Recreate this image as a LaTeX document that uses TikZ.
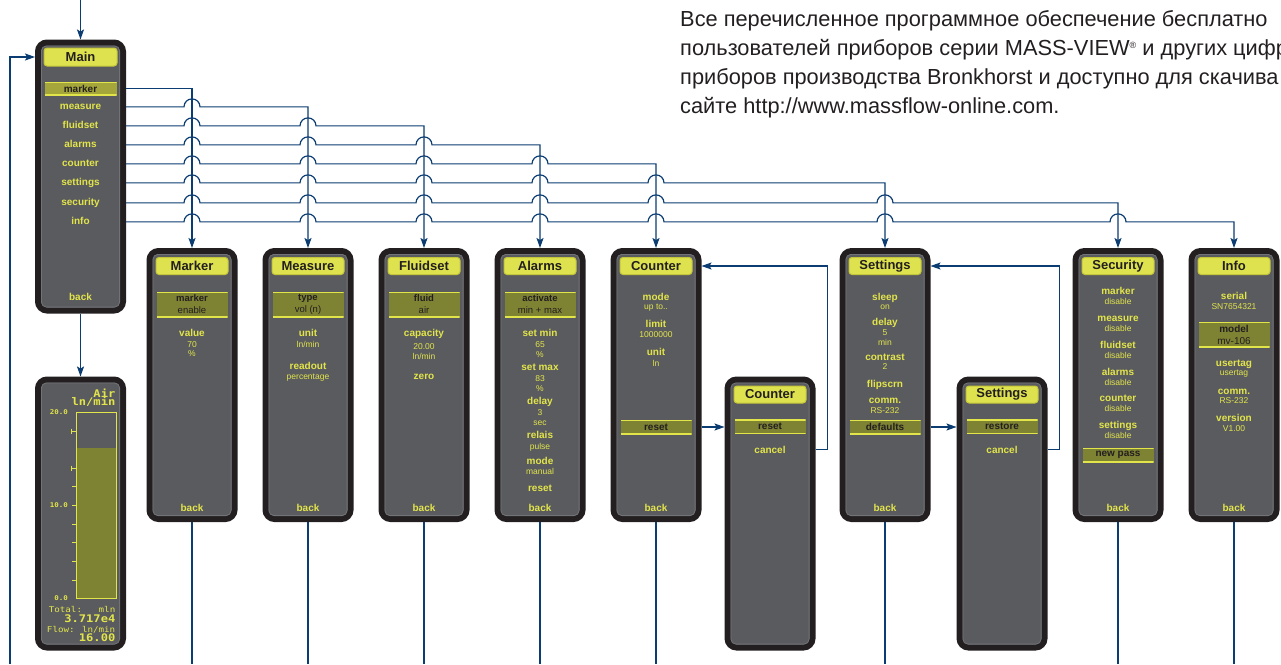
\documentclass[tikz,border=0pt]{standalone}
\usepackage{fontspec}
\setmainfont{Liberation Sans}
\newfontfamily\lcdfont[FakeStretch=1.15]{DejaVu Sans Mono}
\usetikzlibrary{positioning,arrows.meta}

\definecolor{framec}{HTML}{231F20}
\definecolor{screenc}{HTML}{5A5B5F}
\definecolor{rimc}{HTML}{727377}
\definecolor{lcdc}{HTML}{E2E54A}
\definecolor{titlec}{HTML}{DEE24E}
\definecolor{titleedge}{HTML}{C4C63A}
\definecolor{selc}{HTML}{7E8233}
\definecolor{selmainc}{HTML}{A4A53A}
\definecolor{linec}{HTML}{0B3C72}

\tikzset{
  panel/.style={rectangle, rounded corners=9pt, draw=framec, fill=screenc, line width=6pt,
    minimum width=85pt, minimum height=268pt},
  ttl/.style={rectangle, rounded corners=3pt, fill=titlec, draw=titleedge, line width=1pt,
    minimum width=72pt, minimum height=17pt, inner sep=0pt, text=framec,
    font=\fontsize{13}{13}\selectfont\bfseries},
  sel/.style={rectangle, fill=selc, minimum width=71pt, minimum height=14pt, inner sep=0pt,
    text=framec, font=\fontsize{10}{12}\selectfont\bfseries,
    path picture={\draw[lcdc, line width=2pt]
      (path picture bounding box.north west) -- (path picture bounding box.north east)
      (path picture bounding box.south west) -- (path picture bounding box.south east);}},
  sel2/.style={sel, minimum height=25pt, align=center, font=\fontsize{9.5}{12}\selectfont},
  lbl/.style={anchor=base, inner sep=0pt, text=lcdc, font=\fontsize{10}{12}\selectfont\bfseries},
  val/.style={anchor=base, inner sep=0pt, text=lcdc, font=\fontsize{8.5}{10}\selectfont},
  lcdtxt/.style={anchor=base east, inner sep=0pt, text=lcdc},
  note/.style={anchor=base west, inner sep=0pt, text=framec, font=\fontsize{21.8}{29}\selectfont},
  wire/.style={draw=linec, line width=1.2pt},
  link/.style={wire, -{Stealth[length=10pt, width=7pt, inset=2pt]}},
  hop/.style={to path={-- ([xshift=-8pt]\tikztotarget) arc[start angle=180, end angle=0, radius=8pt]}}
}

\begin{document}
\begin{tikzpicture}[x=1pt, y=-1pt, node distance=25pt]
\useasboundingbox (0,0) rectangle (1281,664);

% text in the corner
\node[note] (note1) at (680,26) {Все перечисленное программное обеспечение бесплатно};
\node[note] (note2) at (680,55) {пользователей приборов серии MASS-VIEW\raisebox{7pt}{\fontsize{9}{9}\selectfont ®} и других цифр};
\node[note] (note3) at (680,84) {приборов производства Bronkhorst и доступно для скачива};
\node[note] (note4) at (680,113) {сайте http://www.massflow-online.com.};

% main menu
\node[panel] (main) at (80.5,176.5) {};
\node[ttl, minimum width=73pt, minimum height=18pt] (mttl) at ([yshift=-17.5pt]main.north) {Main};
\node[sel, fill=selmainc, minimum width=72pt, minimum height=13pt] (mmarker) at ([yshift=-49pt]main.north) {marker};
\node[lbl] (mmeasure) at ([yshift=-70pt]main.north) {measure};
\node[lbl] (mfluidset) at ([yshift=-89pt]main.north) {fluidset};
\node[lbl] (malarms) at ([yshift=-108pt]main.north) {alarms};
\node[lbl] (mcounter) at ([yshift=-127pt]main.north) {counter};
\node[lbl] (msettings) at ([yshift=-146pt]main.north) {settings};
\node[lbl] (msecurity) at ([yshift=-166pt]main.north) {security};
\node[lbl] (minfo) at ([yshift=-185pt]main.north) {info};
\node[lbl] (mback) at ([yshift=-261pt]main.north) {back};

% readout screen
\node[panel] (display) [below=63pt of main] {};
\fill[selc] (76,448) rectangle (116,598);
\draw[lcdc, line width=1pt] (76,412) rectangle (116,598);
\foreach \ty in {486,505,524,542,561,580}
  \draw[lcdc, line width=0.9pt] (72,\ty) -- (76,\ty);
\foreach \ty in {431,468}
  \draw[lcdc, line width=0.9pt] (71,\ty-2.5) -- (71,\ty+2.5) (71,\ty) -- (76,\ty);
\node[lcdtxt, font=\lcdfont\fontsize{10.5}{10.5}\selectfont\bfseries] (dgas) at (115.5,397) {Air};
\node[lcdtxt, font=\lcdfont\fontsize{10.5}{10.5}\selectfont\bfseries] (dunit) at (115.5,405.5) {ln/min};
\node[lcdtxt, font=\lcdfont\fontsize{6.5}{6.5}\selectfont\bfseries] (dtop) at (68,414.5) {20.0};
\node[lcdtxt, font=\lcdfont\fontsize{6.5}{6.5}\selectfont\bfseries] (dmid) at (68,507.5) {10.0};
\node[lcdtxt, font=\lcdfont\fontsize{6.5}{6.5}\selectfont\bfseries] (dlow) at (68,600.5) {0.0};
\node[lcdtxt, font=\lcdfont\fontsize{8}{8}\selectfont] (dtotal) at (115.5,612) {Total:\ \ \ mln};
\node[lcdtxt, font=\lcdfont\fontsize{10.5}{10.5}\selectfont\bfseries] (dtotval) at (115.5,622.5) {3.717e4};
\node[lcdtxt, font=\lcdfont\fontsize{8}{8}\selectfont] (dflow) at (115.5,632) {Flow: ln/min};
\node[lcdtxt, font=\lcdfont\fontsize{10.5}{10.5}\selectfont\bfseries] (dflowval) at (115.5,641) {16.00};

% sub menus
\node[panel] (marker) at (192,385) {};
\node[panel] (measure) [right=of marker] {};
\node[panel] (fluidset) [right=of measure] {};
\node[panel] (alarms) [right=of fluidset] {};
\node[panel] (counter) [right=of alarms] {};
\node[panel] (settings) [right=138pt of counter] {};
\node[panel] (security) [right=142pt of settings] {};
\node[panel] (info) [right=of security] {};
\node[panel] (counter2) at (770,513.5) {};
\node[panel] (settings2) at (1002,513.5) {};

% thin rim inside every frame
\foreach \p in {main,display,marker,measure,fluidset,alarms,counter,settings,security,info,counter2,settings2}
  \draw[rimc, line width=0.8pt, rounded corners=5pt]
    ([shift={(6.4pt,-6.4pt)}]\p.north west) rectangle ([shift={(-6.4pt,6.4pt)}]\p.south east);

% marker
\node[ttl] (mkttl) at ([yshift=-18pt]marker.north) {Marker};
\node[sel2] (mksel) at ([yshift=-56.5pt]marker.north) {\textbf{marker}\\enable};
\foreach \dy/\txt [count=\k] in {88.5/value, 263.5/back}
  \node[lbl] (mk-l\k) at ([yshift=-\dy pt]marker.north) {\txt};
\foreach \dy/\txt [count=\k] in {99/70, 108/\%}
  \node[val] (mk-v\k) at ([yshift=-\dy pt]marker.north) {\txt};

% measure
\node[ttl] (msttl) at ([yshift=-18pt]measure.north) {Measure};
\node[sel2] (mssel) at ([yshift=-56.5pt]measure.north) {\textbf{type}\\vol (n)};
\foreach \dy/\txt [count=\k] in {88.5/unit, 121.5/readout, 263.5/back}
  \node[lbl] (ms-l\k) at ([yshift=-\dy pt]measure.north) {\txt};
\foreach \dy/\txt [count=\k] in {99/{ln/min}, 131/percentage}
  \node[val] (ms-v\k) at ([yshift=-\dy pt]measure.north) {\txt};

% fluidset
\node[ttl] (flttl) at ([yshift=-18pt]fluidset.north) {Fluidset};
\node[sel2] (flsel) at ([yshift=-56.5pt]fluidset.north) {\textbf{fluid}\\air};
\foreach \dy/\txt [count=\k] in {88.5/capacity, 131.5/zero, 263.5/back}
  \node[lbl] (fl-l\k) at ([yshift=-\dy pt]fluidset.north) {\txt};
\foreach \dy/\txt [count=\k] in {101/20.00, 111/{ln/min}}
  \node[val] (fl-v\k) at ([yshift=-\dy pt]fluidset.north) {\txt};

% alarms
\node[ttl] (alttl) at ([yshift=-18pt]alarms.north) {Alarms};
\node[sel2] (alsel) at ([yshift=-56.5pt]alarms.north) {\textbf{activate}\\min + max};
\foreach \dy/\txt [count=\k] in {88.5/set min, 122.5/set max, 156.5/delay, 190.5/relais, 216.5/mode, 243.5/reset, 263.5/back}
  \node[lbl] (al-l\k) at ([yshift=-\dy pt]alarms.north) {\txt};
\foreach \dy/\txt [count=\k] in {99/65, 109/\%, 133/83, 143/\%, 167/3, 177/sec, 201/pulse, 226/manual}
  \node[val] (al-v\k) at ([yshift=-\dy pt]alarms.north) {\txt};

% counter
\node[ttl] (cnttl) at ([yshift=-18pt]counter.north) {Counter};
\foreach \dy/\txt [count=\k] in {52.5/mode, 79.5/limit, 107.5/unit, 263.5/back}
  \node[lbl] (cn-l\k) at ([yshift=-\dy pt]counter.north) {\txt};
\foreach \dy/\txt [count=\k] in {61/up to.., 89/1000000, 118/ln}
  \node[val] (cn-v\k) at ([yshift=-\dy pt]counter.north) {\txt};
\node[sel] (cnsel) at ([yshift=-179pt]counter.north) {reset};

\node[ttl] (c2ttl) at ([yshift=-18pt]counter2.north) {Counter};
\node[sel] (c2sel) at ([yshift=-50pt]counter2.north) {reset};
\node[lbl] (c2cancel) at ([yshift=-76.5pt]counter2.north) {cancel};

% settings
\node[ttl] (stttl) at ([yshift=-18pt]settings.north) {Settings};
\foreach \dy/\txt [count=\k] in {52.5/sleep, 77.5/delay, 112.5/contrast, 139.5/flipscrn, 155.5/comm., 263.5/back}
  \node[lbl] (st-l\k) at ([yshift=-\dy pt]settings.north) {\txt};
\foreach \dy/\txt [count=\k] in {61/on, 87/5, 97/min, 121/2, 165/RS-232}
  \node[val] (st-v\k) at ([yshift=-\dy pt]settings.north) {\txt};
\node[sel] (stsel) at ([yshift=-179pt]settings.north) {defaults};

\node[ttl] (s2ttl) at ([yshift=-18pt]settings2.north) {Settings};
\node[sel] (s2sel) at ([yshift=-50pt]settings2.north) {restore};
\node[lbl] (s2cancel) at ([yshift=-76.5pt]settings2.north) {cancel};

% security
\node[ttl] (scttl) at ([yshift=-18pt]security.north) {Security};
\foreach \dy/\txt [count=\k] in {46.5/marker, 73.5/measure, 100.5/fluidset, 127.5/alarms, 153.5/counter, 180.5/settings, 263.5/back}
  \node[lbl] (sc-l\k) at ([yshift=-\dy pt]security.north) {\txt};
\foreach \dy [count=\k] in {56, 83, 110, 137, 163, 190}
  \node[val] (sc-v\k) at ([yshift=-\dy pt]security.north) {disable};
\node[sel] (scsel) at ([yshift=-207pt]security.north) {new pass};

% info
\node[ttl] (inttl) at ([yshift=-18pt]info.north) {Info};
\node[sel2, font=\fontsize{10}{12}\selectfont] (insel) at ([yshift=-86.5pt]info.north) {\textbf{model}\\mv-106};
\foreach \dy/\txt [count=\k] in {51.5/serial, 118/usertag, 146.5/comm., 173.5/version, 263.5/back}
  \node[lbl] (in-l\k) at ([yshift=-\dy pt]info.north) {\txt};
\foreach \dy/\txt [count=\k] in {61/SN7654321, 127/usertag, 155/RS-232, 183/V1.00}
  \node[val] (in-v\k) at ([yshift=-\dy pt]info.north) {\txt};

% connectors
\coordinate (entry) at (80.5,0);
\coordinate (retfoot) at (10,664);
\coordinate (bottom) at (0,664);
\draw[link] (entry) -- (main.north);
\draw[link] (retfoot) |- (main.west |- mttl);
\draw[link] (main.south) -- (display.north);

\draw[link] (main.east |- mmarker) -| (marker.north);
\draw[link] (main.east |- mmeasure.mid) to[hop] (marker.north |- mmeasure.mid) -| (measure.north);
\draw[link] (main.east |- mfluidset.mid) to[hop] (marker.north |- mfluidset.mid)
  to[hop] (measure.north |- mfluidset.mid) -| (fluidset.north);
\draw[link] (main.east |- malarms.mid) to[hop] (marker.north |- malarms.mid)
  to[hop] (measure.north |- malarms.mid) to[hop] (fluidset.north |- malarms.mid) -| (alarms.north);
\draw[link] (main.east |- mcounter.mid) to[hop] (marker.north |- mcounter.mid)
  to[hop] (measure.north |- mcounter.mid) to[hop] (fluidset.north |- mcounter.mid)
  to[hop] (alarms.north |- mcounter.mid) -| (counter.north);
\draw[link] (main.east |- msettings.mid) to[hop] (marker.north |- msettings.mid)
  to[hop] (measure.north |- msettings.mid) to[hop] (fluidset.north |- msettings.mid)
  to[hop] (alarms.north |- msettings.mid) to[hop] (counter.north |- msettings.mid) -| (settings.north);
\draw[link] (main.east |- msecurity.mid) to[hop] (marker.north |- msecurity.mid)
  to[hop] (measure.north |- msecurity.mid) to[hop] (fluidset.north |- msecurity.mid)
  to[hop] (alarms.north |- msecurity.mid) to[hop] (counter.north |- msecurity.mid)
  to[hop] (settings.north |- msecurity.mid) -| (security.north);
\draw[link] (main.east |- minfo.mid) to[hop] (marker.north |- minfo.mid)
  to[hop] (measure.north |- minfo.mid) to[hop] (fluidset.north |- minfo.mid)
  to[hop] (alarms.north |- minfo.mid) to[hop] (counter.north |- minfo.mid)
  to[hop] (settings.north |- minfo.mid) to[hop] (security.north |- minfo.mid) -| (info.north);

\draw[link] (counter.east |- cnsel) -- (counter2.west |- cnsel);
\draw[link] (counter2.east |- c2cancel) -- ++(12pt,0) |- (counter.east |- cnttl);
\draw[link] (settings.east |- stsel) -- (settings2.west |- stsel);
\draw[link] (settings2.east |- s2cancel) -- ++(12pt,0) |- (settings.east |- stttl);

\draw[wire] (marker.south) -- (marker.south |- bottom);
\draw[wire] (measure.south) -- (measure.south |- bottom);
\draw[wire] (fluidset.south) -- (fluidset.south |- bottom);
\draw[wire] (alarms.south) -- (alarms.south |- bottom);
\draw[wire] (counter.south) -- (counter.south |- bottom);
\draw[wire] (settings.south) -- (settings.south |- bottom);
\draw[wire] (security.south) -- (security.south |- bottom);
\draw[wire] (info.south) -- (info.south |- bottom);
\end{tikzpicture}
\end{document}
